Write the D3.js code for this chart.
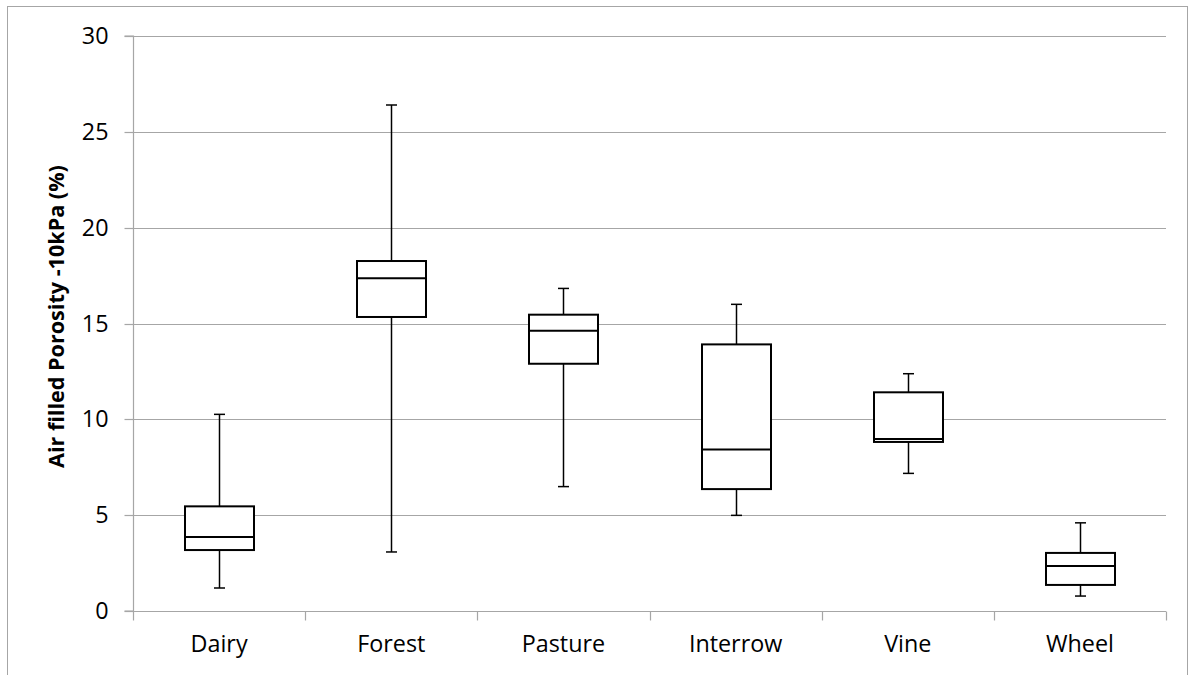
<!DOCTYPE html>
<html><head><meta charset="utf-8">
<script src="https://cdn.jsdelivr.net/npm/d3@7"></script>
<style>body{margin:0;background:#fff;} svg{display:block;}</style>
</head><body>
<svg id="c" width="1189" height="675"></svg>
<script>
const categories = ["Dairy","Forest","Pasture","Interrow","Vine","Wheel"];
const whiskerLow = [1.2, 3.08, 6.49, 4.99, 7.18, 0.78];
const q1 = [3.18, 15.34, 12.9, 6.36, 8.82, 1.36];
const median = [3.86, 17.36, 14.62, 8.42, 8.97, 2.35];
const q3 = [5.46, 18.26, 15.46, 13.91, 11.41, 3.03];
const whiskerHigh = [10.26, 26.4, 16.83, 16.0, 12.38, 4.6];
const yTicks = [0,5,10,15,20,25,30];
const yLabel = "Air filled Porosity -10kPa (%)";

const svg = d3.select("#c");
const font = "'Open Sans', sans-serif";
const L = 133, R = 1166, T = 36, B = 611;

function fitSize(sel, targetW){
  const s0 = 20;
  sel.attr("font-size", s0);
  const w = sel.node().getComputedTextLength();
  const s = s0*targetW/w;
  sel.attr("font-size", s);
  return s;
}

// outer border
svg.append("rect").attr("x",7.5).attr("y",6.5).attr("width",1180).attr("height",700)
  .attr("fill","none").attr("stroke","#a6a6a6").attr("stroke-width",1);

const x = d3.scaleBand().domain(categories).range([L,R]).padding(0);
const y = d3.scaleLinear().domain([0,30]).range([B,T]);

// gridlines
svg.append("g").selectAll("line").data(yTicks.filter(d=>d>0)).join("line")
  .attr("x1",L).attr("x2",R).attr("y1",d=>Math.round(y(d))+0.5).attr("y2",d=>Math.round(y(d))+0.5)
  .attr("stroke","#a6a6a6").attr("stroke-width",1.2);

// measure fonts
const probe = svg.append("text").attr("font-family",font).text("Wheel");
const tickSize = fitSize(probe, 68);
probe.remove();

// y axis
const ya = svg.append("g").attr("transform",`translate(${L+0.5},0)`)
  .call(d3.axisLeft(y).tickValues(yTicks).tickSize(9).tickPadding(16).tickFormat(d3.format("d")));
ya.select(".domain").attr("stroke","#a6a6a6").attr("stroke-width",1.2).attr("d",`M-9,${B}H0V${T}H-9`);
ya.selectAll(".tick line").attr("stroke","#a6a6a6").attr("stroke-width",1.2);
ya.selectAll(".tick text").attr("font-family",font).attr("font-size",tickSize).attr("fill","#000");
ya.selectAll(".tick").attr("transform",d=>`translate(0,${Math.round(y(d))+0.5})`);

// x axis
const xa = svg.append("g").attr("transform",`translate(0,${B+0.5})`)
  .call(d3.axisBottom(x).tickSize(0).tickPadding(24));
xa.select(".domain").attr("stroke","#a6a6a6").attr("stroke-width",1.2).attr("d",`M${L},0H${R}`);
xa.selectAll(".tick text").attr("font-family",font).attr("font-size",tickSize).attr("fill","#000");
const bounds = d3.range(categories.length+1).map(i=>L+i*x.bandwidth());
xa.selectAll(".bnd").data(bounds).join("line").attr("class","bnd")
  .attr("x1",d=>Math.round(d)+0.5).attr("x2",d=>Math.round(d)+0.5).attr("y1",0).attr("y2",9)
  .attr("stroke","#a6a6a6").attr("stroke-width",1.2);

// y label
const yl = svg.append("text").attr("transform",`translate(64,${(165+468)/2}) rotate(-90)`)
  .attr("text-anchor","middle").attr("font-family",font).attr("font-weight","bold")
  .attr("fill","#000").text(yLabel);
fitSize(yl, 303);

// boxes
const bw = 69, cap = 11;
const g = svg.append("g");
categories.forEach((c,i)=>{
  const cx = Math.round(x(c)+x.bandwidth()/2)+0.5;
  g.append("line").attr("x1",cx).attr("x2",cx).attr("y1",y(whiskerHigh[i])).attr("y2",y(q3[i]))
    .attr("stroke","#000").attr("stroke-width",1.5);
  g.append("line").attr("x1",cx).attr("x2",cx).attr("y1",y(q1[i])).attr("y2",y(whiskerLow[i]))
    .attr("stroke","#000").attr("stroke-width",1.5);
  [whiskerHigh[i], whiskerLow[i]].forEach(v=>{
    g.append("line").attr("x1",cx-cap/2).attr("x2",cx+cap/2).attr("y1",y(v)).attr("y2",y(v))
      .attr("stroke","#000").attr("stroke-width",1.5);
  });
  g.append("rect").attr("x",cx-bw/2).attr("y",y(q3[i])).attr("width",bw).attr("height",y(q1[i])-y(q3[i]))
    .attr("fill","#fff").attr("stroke","#000").attr("stroke-width",2);
  g.append("line").attr("x1",cx-bw/2).attr("x2",cx+bw/2).attr("y1",y(median[i])).attr("y2",y(median[i]))
    .attr("stroke","#000").attr("stroke-width",2);
});
</script>
</body></html>
